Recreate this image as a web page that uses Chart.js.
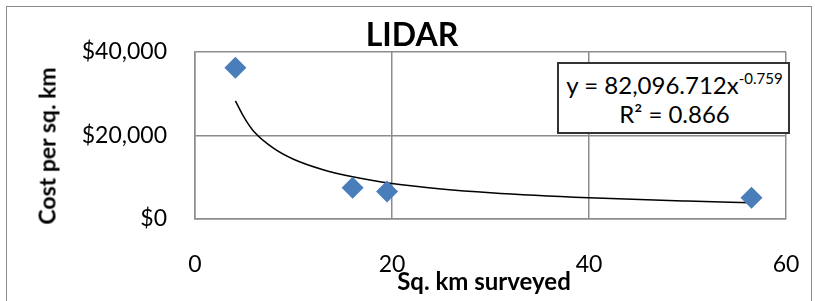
<!DOCTYPE html>
<html>
<head>
<meta charset="utf-8">
<script src="https://cdn.jsdelivr.net/npm/chart.js@4"></script>
<style>
    body { margin: 0; background: #fff; font-family: Lato, "Open Sans", sans-serif; }
    #wrap { position: relative; width: 815px; height: 301px; overflow: hidden; }
    #frame { position: absolute; left: 6px; top: 6px; width: 806px; height: 320px; border: 1.5px solid #8a8a8a; box-sizing: border-box; }
    canvas { position: absolute; left: 0; top: 0; }
    .lbl { position: absolute; white-space: nowrap; color: #000; transform: translate(-50%, -50%); line-height: 1; }
    #title { left: 412px; top: 34px; font-size: 32px; font-weight: bold; }
    #ytitle { left: 47px; top: 146px; font-size: 23px; font-weight: bold; transform: translate(-50%, -50%) rotate(-90deg); }
    #xtitle { left: 484px; top: 281px; font-size: 24px; font-weight: bold; }
    #eq { position: absolute; left: 557px; top: 62px; width: 233px; height: 72px; box-sizing: border-box;
          border: 2px solid #333; background: #fff; text-align: center; font-size: 24px; line-height: 29px; padding-top: 6px; padding-left: 2px; }
    #eq sup { font-size: 15px; vertical-align: 10px; line-height: 0; }
</style>
</head>
<body>
<div id="wrap">
    <div id="frame"></div>
    <canvas id="chart" width="815" height="301"></canvas>
    <div class="lbl" id="title">LIDAR</div>
    <div class="lbl" id="ytitle">Cost per sq. km</div>
    <div class="lbl" id="xtitle">Sq. km surveyed</div>
    <div id="eq">y = 82,096.712x<sup>-0.759</sup><br>R² = 0.866</div>
</div>
<script>
// survey data
const sqKm = [4.1, 16.0, 19.5, 56.5];
const costPerKm = [36200, 7500, 6600, 5100];

// power trendline
const trendX = [4.1, 5, 6, 8, 10, 13, 16, 20, 25, 30, 40, 50, 56.5];
const trendY = [28300, 24300, 20900, 16900, 14300, 11800, 10100, 8500, 7200, 6300, 5100, 4300, 3900];

const xTicks = [0, 20, 40, 60];
const yTicks = [0, 20000, 40000];

const gridColor = "#8c8c8c";

function toPoints(xs, ys) {
    return xs.map((x, i) => ({ x: x, y: ys[i] }));
}

const ctx = document.getElementById("chart").getContext("2d");

new Chart(ctx, {
    type: "scatter",
    data: {
        datasets: [
            {
                label: "LIDAR",
                data: toPoints(sqKm, costPerKm),
                pointStyle: "rectRot",
                pointRadius: 11,
                pointHoverRadius: 11,
                backgroundColor: "#4a7ebb",
                borderColor: "#4a7ebb",
                borderWidth: 0
            },
            {
                label: "Power (LIDAR)",
                data: toPoints(trendX, trendY),
                showLine: true,
                pointRadius: 0,
                borderColor: "#000",
                borderWidth: 1.5,
                tension: 0.4,
                cubicInterpolationMode: "monotone"
            }
        ]
    },
    options: {
        responsive: false,
        animation: false,
        layout: { padding: { left: 0, right: 29, top: 52, bottom: 0 } },
        plugins: {
            legend: { display: false },
            tooltip: { enabled: false }
        },
        scales: {
            x: {
                type: "linear",
                min: 0,
                max: 60,
                afterBuildTicks: s => { s.ticks = xTicks.map(v => ({ value: v })); },
                afterFit: s => { s.height = 82; },
                // tick marks are invisible, they only push the labels down
                grid: { color: gridColor, lineWidth: 1.5, drawTicks: true, tickLength: 32, tickColor: "rgba(0,0,0,0)" },
                border: { color: gridColor, width: 1.5 },
                ticks: { color: "#000", padding: 0, font: { family: "Lato", size: 23 } }
            },
            y: {
                min: 0,
                max: 40000,
                afterBuildTicks: s => { s.ticks = yTicks.map(v => ({ value: v })); },
                afterFit: s => { s.width = 195; },
                grid: { color: gridColor, lineWidth: 1.5, drawTicks: false },
                border: { color: gridColor, width: 1.5 },
                ticks: {
                    color: "#000",
                    padding: 28,
                    font: { family: "Lato", size: 23 },
                    callback: v => "$" + v.toLocaleString("en-US")
                }
            }
        }
    }
});
</script>
</body>
</html>
